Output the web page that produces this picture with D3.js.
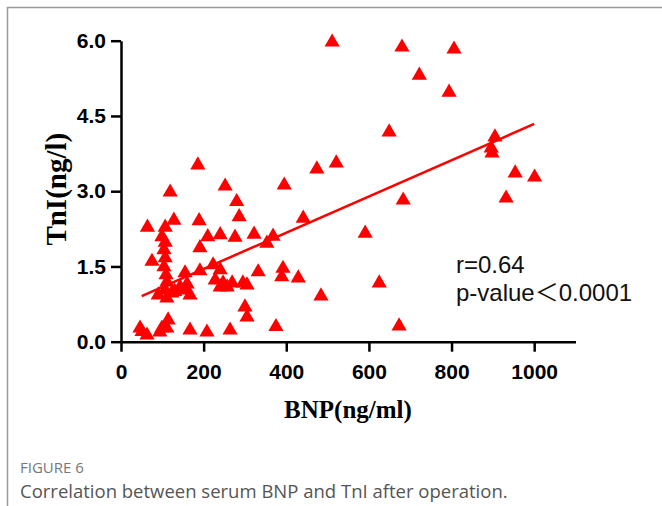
<!DOCTYPE html>
<html>
<head>
<meta charset="utf-8">
<script src="https://cdn.jsdelivr.net/npm/d3@7"></script>
<style>
	body { margin: 0; background: #fff; }
	svg { display: block; }
</style>
</head>
<body>
<div id="chart"></div>
<script>
// BNP (ng/ml) and TnI (ng/l), one entry per patient
const bnp = [
	511, 680, 806, 722, 794, 649, 905, 896, 898, 954, 1001, 932, 683, 591, 625, 673,
	521, 474, 395, 441, 484, 429, 375,
	186, 119, 252, 280, 286, 64, 128, 107, 189, 210, 240, 276, 322, 368, 353, 99, 191, 75,
	107, 104, 107, 104, 109,
	191, 155, 223, 240, 228, 247, 269, 295, 240, 257, 305, 332, 392, 389,
	90, 107, 111, 123, 143, 155, 167, 111, 130, 160,
	46, 51, 63, 94, 99, 114, 111, 167, 208, 264, 300, 305
];
const tni = [
	5.97, 5.87, 5.83, 5.31, 4.97, 4.18, 4.08, 3.86, 3.76, 3.36, 3.28, 2.86, 2.82, 2.16, 1.17, 0.31,
	3.56, 3.44, 3.12, 2.46, 0.91, 1.27, 0.30,
	3.52, 2.98, 3.10, 2.79, 2.49, 2.28, 2.42, 2.28, 2.41, 2.09, 2.13, 2.08, 2.14, 2.10, 1.96, 2.09, 1.87, 1.60,
	1.98, 1.83, 1.67, 1.49, 1.33,
	1.41, 1.37, 1.53, 1.43, 1.23, 1.17, 1.17, 1.17, 1.09, 1.09, 1.13, 1.39, 1.46, 1.29,
	0.93, 1.03, 0.87, 0.97, 1.09, 1.03, 0.93, 1.19, 1.00, 1.15,
	0.27, 0.20, 0.13, 0.19, 0.27, 0.43, 0.27, 0.23, 0.19, 0.23, 0.69, 0.49
];

// regression line end points
const fitX = [50, 1000];
const fitY = [0.91, 4.34];

const xTicks = [0, 200, 400, 600, 800, 1000];
const yTicks = [0, 1.5, 3.0, 4.5, 6.0];
const statLines = ['r=0.64', 'p-value\uFF1C0.0001'];
const captionTitle = 'FIGURE 6';
const captionText = 'Correlation between serum BNP and TnI after operation.';

const width = 662, height = 506;

const svg = d3.select('#chart').append('svg')
	.attr('width', width)
	.attr('height', height);

// figure frame (left and top edge visible)
svg.append('path')
	.attr('d', 'M7.5,' + height + 'V7.5H' + width)
	.attr('fill', 'none')
	.attr('stroke', '#9a9a9a')
	.attr('stroke-width', 1.5);

const x = d3.scaleLinear().domain([0, 1100]).range([121, 575.5]);
const y = d3.scaleLinear().domain([0, 6]).range([341.7, 40.7]);

// axes
const yAxis = svg.append('g')
	.attr('transform', 'translate(' + x(0) + ',0)')
	.call(d3.axisLeft(y).tickValues(yTicks).tickFormat(d3.format('.1f')).tickSize(10).tickSizeOuter(0).tickPadding(5));
const xAxis = svg.append('g')
	.attr('transform', 'translate(0,' + y(0) + ')')
	.call(d3.axisBottom(x).tickValues(xTicks).tickFormat(d3.format('d')).tickSize(10).tickSizeOuter(0).tickPadding(12));

[xAxis, yAxis].forEach(function(g) {
	g.selectAll('.domain, .tick line').attr('stroke', '#000').attr('stroke-width', 2.5);
	g.selectAll('.tick text')
		.attr('fill', '#000')
		.style('font-family', 'Liberation Sans, Arial, sans-serif')
		.style('font-weight', 'bold')
		.style('font-size', '21px');
});

// axis titles
svg.append('text')
	.attr('transform', 'translate(66,' + ((y(0) + y(6)) / 2 - 2) + ') rotate(-90)')
	.attr('text-anchor', 'middle')
	.style('font-family', 'Liberation Serif, Times New Roman, serif')
	.style('font-weight', 'bold')
	.style('font-size', '29px')
	.text('TnI(ng/l)');

svg.append('text')
	.attr('x', 348)
	.attr('y', 418)
	.attr('text-anchor', 'middle')
	.style('font-family', 'Liberation Serif, Times New Roman, serif')
	.style('font-weight', 'bold')
	.style('font-size', '25px')
	.text('BNP(ng/ml)');

// regression line
svg.append('line')
	.attr('x1', x(fitX[0])).attr('y1', y(fitY[0]))
	.attr('x2', x(fitX[1])).attr('y2', y(fitY[1]))
	.attr('stroke', '#ff0000')
	.attr('stroke-width', 2.5);

// points
const points = bnp.map(function(b, i) { return { bnp: b, tni: tni[i] }; });
svg.append('g').selectAll('path')
	.data(points)
	.enter().append('path')
	.attr('transform', function(d) { return 'translate(' + x(d.bnp) + ',' + y(d.tni) + ')'; })
	.attr('d', d3.symbol(d3.symbolTriangle, 100))
	.attr('fill', '#ff0000');

// statistics
svg.append('g').selectAll('text')
	.data(statLines)
	.enter().append('text')
	.attr('x', 456)
	.attr('y', function(d, i) { return 273 + i * 28; })
	.style('font-family', 'Liberation Sans, "Noto Sans CJK SC", sans-serif')
	.style('font-size', '24px')
	.attr('fill', '#111')
	.text(function(d) { return d; });

// caption
svg.append('text')
	.attr('x', 20)
	.attr('y', 473)
	.style('font-family', 'Open Sans, sans-serif')
	.style('font-size', '15px')
	.attr('fill', '#777')
	.text(captionTitle);
svg.append('text')
	.attr('x', 20)
	.attr('y', 498)
	.style('font-family', 'Open Sans, sans-serif')
	.style('font-size', '18.5px')
	.attr('fill', '#555')
	.text(captionText);
</script>
</body>
</html>
